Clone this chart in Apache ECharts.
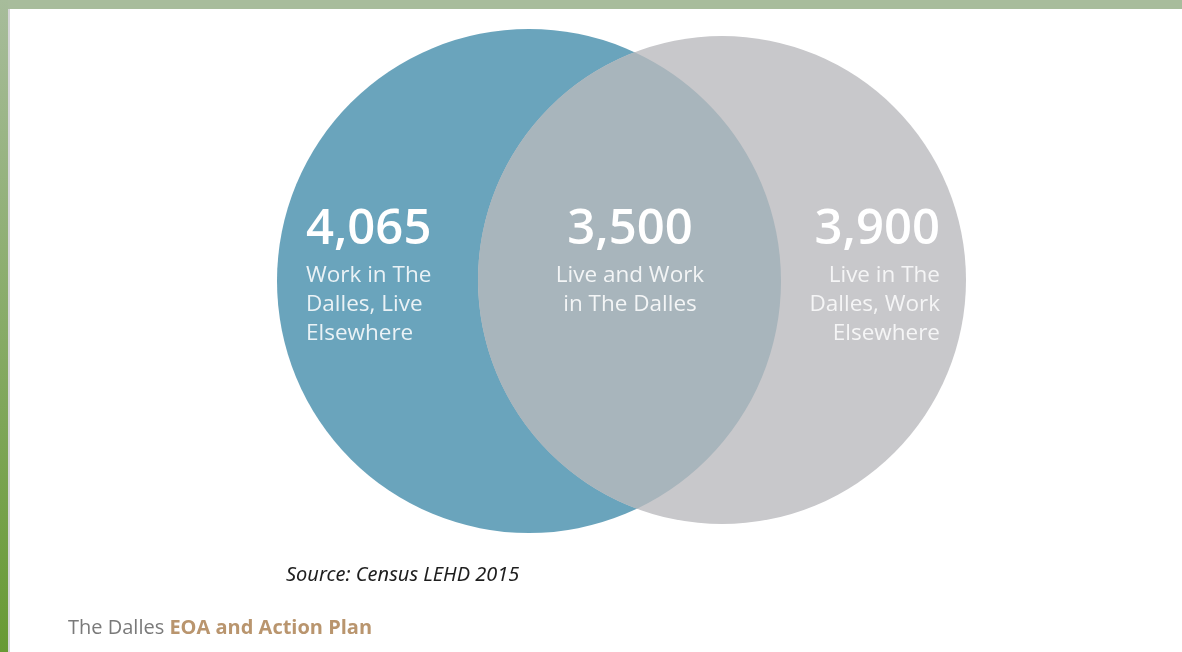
<!DOCTYPE html>
<html>
<head>
<meta charset="utf-8">
<script src="https://cdn.jsdelivr.net/npm/echarts@6/dist/echarts.min.js"></script>
<style>
  html, body { margin: 0; padding: 0; background: #fff; }
  #container { width: 1182px; height: 652px; }
</style>
</head>
<body>
<div id="container"></div>
<script>
const dom = document.getElementById('container')
const myChart = echarts.init(dom)

// values of the three regions: left only, both, right only
const counts = [4065, 3500, 3900]
const descriptions = [
    'Work in The\nDalles, Live\nElsewhere',
    'Live and Work\nin The Dalles',
    'Live in The\nDalles, Work\nElsewhere'
]
const sourceText = 'Source: Census LEHD 2015'

// circle layout in axis units (axis = page pixels)
const circles = [
    [529, 281, 252],
    [722, 280, 244]
]
const circleColors = ['#6aa4bc', '#c8c8cb']
const overlapColor = '#a8b5bc'

// label anchors [x, y, align]
const labelAnchors = [
    [306, 230, 'left'],
    [630, 230, 'center'],
    [940, 230, 'right']
]

const fmt = v => v.toLocaleString('en-US')

const option = {
    backgroundColor: '#fff',
    animation: false,
    grid: { left: 0, right: 0, top: 0, bottom: 0 },
    xAxis: { type: 'value', min: 0, max: 1182, show: false },
    yAxis: { type: 'value', min: 0, max: 652, inverse: true, show: false },
    graphic: [
        { type: 'rect', shape: { x: 0, y: 0, width: 1182, height: 9 }, style: { fill: '#a8bc9c' }, z: 10 },
        {
            type: 'rect',
            shape: { x: 0, y: 0, width: 8, height: 652 },
            style: {
                fill: new echarts.graphic.LinearGradient(0, 0, 0, 1, [
                    { offset: 0, color: '#a7bc9b' },
                    { offset: 1, color: '#689a34' }
                ])
            },
            z: 10
        },
        { type: 'rect', shape: { x: 8, y: 9, width: 2, height: 643 }, style: { fill: '#d6d6d8' }, z: 10 },
        {
            type: 'text',
            left: 286,
            top: 565,
            style: {
                text: sourceText,
                fontFamily: 'Noto Sans',
                fontStyle: 'italic',
                fontSize: 20,
                fill: '#1e1e1e'
            }
        },
        {
            type: 'text',
            left: 68,
            top: 618,
            style: {
                text: '{a|The Dalles }{b|EOA and Action Plan}',
                rich: {
                    a: { fontFamily: 'Open Sans', fontSize: 20, fill: '#7a7a7a' },
                    b: { fontFamily: 'Open Sans', fontSize: 20, fontWeight: 'bold', fill: '#b9956e' }
                }
            }
        }
    ],
    series: [
        {
            type: 'custom',
            name: 'sets',
            coordinateSystem: 'cartesian2d',
            silent: true,
            data: circles,
            renderItem: function (params, api) {
                const c = api.coord([api.value(0), api.value(1)])
                const r = api.size([api.value(2), 0])[0]
                return {
                    type: 'circle',
                    shape: { cx: c[0], cy: c[1], r: r },
                    style: { fill: circleColors[params.dataIndex] }
                }
            }
        },
        {
            type: 'custom',
            name: 'overlap',
            coordinateSystem: 'cartesian2d',
            silent: true,
            data: [[circles[0][0], circles[0][1], circles[0][2], circles[1][0], circles[1][1], circles[1][2]]],
            renderItem: function (params, api) {
                const c1 = api.coord([api.value(0), api.value(1)])
                const r1 = api.size([api.value(2), 0])[0]
                const c2 = api.coord([api.value(3), api.value(4)])
                const r2 = api.size([api.value(5), 0])[0]
                const dx = c2[0] - c1[0], dy = c2[1] - c1[1]
                const d = Math.sqrt(dx * dx + dy * dy)
                const a = (r1 * r1 - r2 * r2 + d * d) / (2 * d)
                const h = Math.sqrt(r1 * r1 - a * a)
                const px = c1[0] + a * dx / d, py = c1[1] + a * dy / d
                const top = [px + h * dy / d, py - h * dx / d]
                const bot = [px - h * dy / d, py + h * dx / d]
                const path = 'M' + top[0] + ' ' + top[1] +
                    ' A' + r2 + ' ' + r2 + ' 0 0 0 ' + bot[0] + ' ' + bot[1] +
                    ' A' + r1 + ' ' + r1 + ' 0 0 0 ' + top[0] + ' ' + top[1] + ' Z'
                return {
                    type: 'path',
                    shape: { pathData: path },
                    style: { fill: overlapColor }
                }
            }
        },
        {
            type: 'custom',
            name: 'labels',
            coordinateSystem: 'cartesian2d',
            silent: true,
            data: labelAnchors.map((p, i) => [p[0], p[1], counts[i]]),
            renderItem: function (params, api) {
                const i = params.dataIndex
                const p = api.coord([api.value(0), api.value(1)])
                const align = labelAnchors[i][2]
                const faint = i === 2 ? 'rgba(255,255,255,0.82)' : 'rgba(255,255,255,0.86)'
                return {
                    type: 'group',
                    children: [
                        {
                            type: 'text',
                            style: {
                                text: fmt(counts[i]),
                                x: p[0], y: p[1],
                                align: align,
                                verticalAlign: 'middle',
                                fontFamily: 'Open Sans',
                                fontWeight: 600,
                                fontSize: 49,
                                fill: '#ffffff'
                            }
                        },
                        {
                            type: 'text',
                            style: {
                                text: descriptions[i],
                                x: p[0], y: p[1] + 31,
                                align: align,
                                verticalAlign: 'top',
                                fontFamily: 'Open Sans',
                                fontSize: 22.5,
                                lineHeight: 29,
                                fill: faint
                            }
                        }
                    ]
                }
            }
        }
    ]
}

myChart.setOption(option)
</script>
</body>
</html>
